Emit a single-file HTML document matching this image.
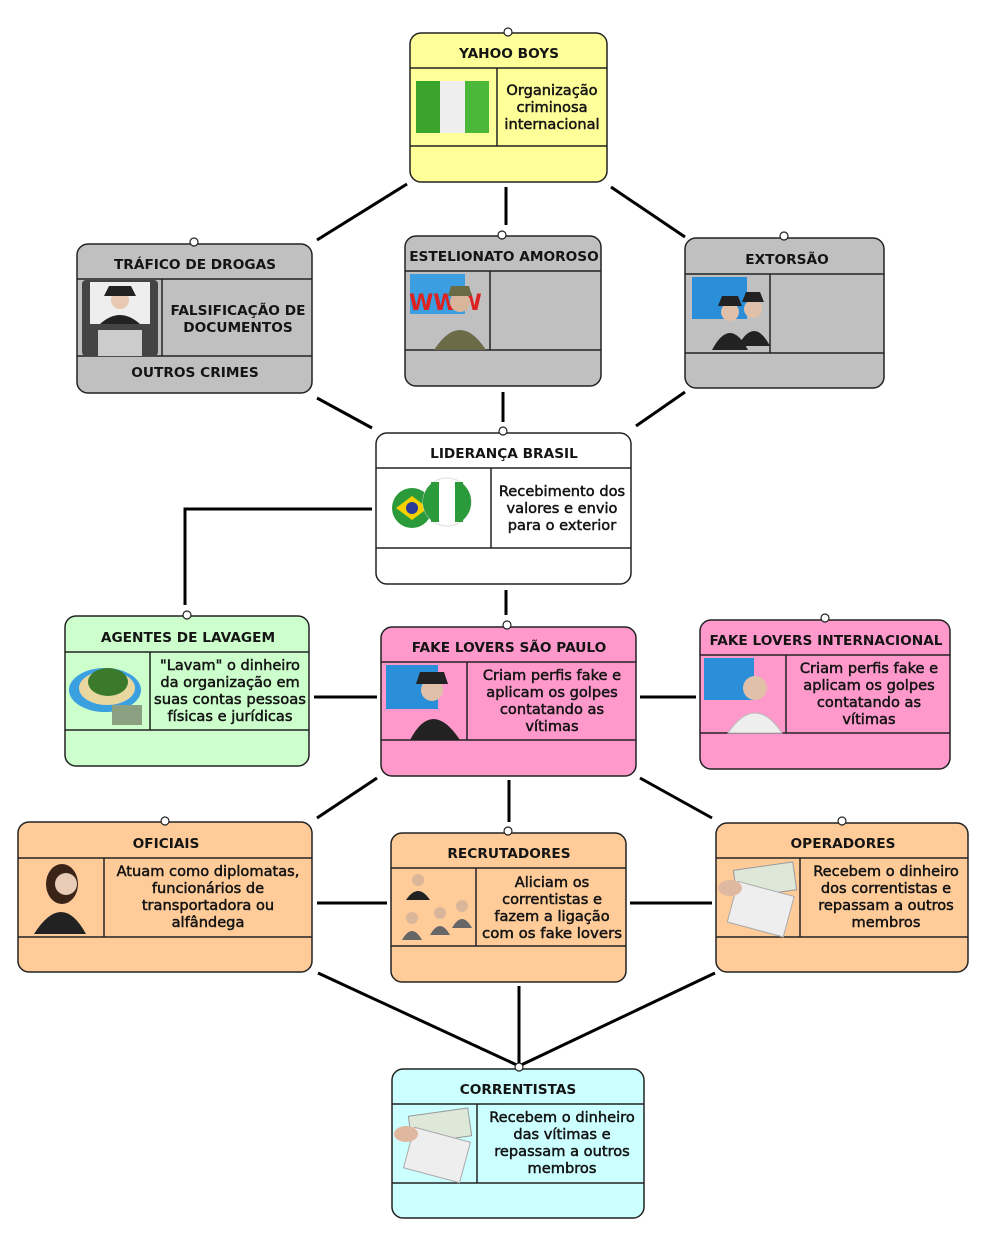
<!DOCTYPE html>
<html><head><meta charset="utf-8"><style>
body{margin:0;background:#fff}
svg{display:block}
.t{font-family:"DejaVu Sans","Liberation Sans",sans-serif;font-weight:bold;font-size:13.7px;fill:#141414;text-anchor:middle}
.b{font-family:"DejaVu Sans","Liberation Sans",sans-serif;font-size:14.6px;fill:#141414;text-anchor:middle;stroke:#141414;stroke-width:.5}
.n{stroke:#222;stroke-width:1.5}
.l{stroke:#000;stroke-width:3;fill:none}
.c{fill:#fff;stroke:#222;stroke-width:1.2}
</style></head><body>
<svg width="1000" height="1236" viewBox="0 0 1000 1236">
<g class="l">
<line x1="407" y1="184" x2="317" y2="240"/>
<line x1="506" y1="187" x2="506" y2="225"/>
<line x1="611" y1="187" x2="685" y2="237"/>
<line x1="317" y1="398" x2="372" y2="428"/>
<line x1="503" y1="392" x2="503" y2="422"/>
<line x1="685" y1="392" x2="636" y2="426"/>
<polyline points="372,509 185,509 185,605"/>
<line x1="506" y1="590" x2="506" y2="615"/>
<line x1="314" y1="697" x2="377" y2="697"/>
<line x1="640" y1="697" x2="696" y2="697"/>
<line x1="377" y1="778" x2="317" y2="818"/>
<line x1="509" y1="780" x2="509" y2="822"/>
<line x1="640" y1="778" x2="712" y2="818"/>
<line x1="317" y1="903" x2="387" y2="903"/>
<line x1="630" y1="903" x2="712" y2="903"/>
<line x1="318" y1="973" x2="519" y2="1066"/>
<line x1="519" y1="986" x2="519" y2="1066"/>
<line x1="715" y1="973" x2="519" y2="1066"/>
</g>

<rect class="n" x="410" y="33" width="197" height="149" rx="11" fill="#ffff99"/>
<line class="n" x1="410" y1="68" x2="607" y2="68"/><line class="n" x1="410" y1="146" x2="607" y2="146"/><line class="n" x1="497" y1="68" x2="497" y2="146"/>
<rect x="416" y="81" width="24" height="52" fill="#3aa52a"/><rect x="440" y="81" width="25" height="52" fill="#eee"/><rect x="465" y="81" width="24" height="52" fill="#4cb83a"/>
<text class="t" x="509" y="58">YAHOO BOYS</text>
<text class="b" x="552" y="95">Organização</text><text class="b" x="552" y="112">criminosa</text><text class="b" x="552" y="129">internacional</text>
<circle class="c" cx="508" cy="32" r="4"/>

<rect class="n" x="77" y="244" width="235" height="149" rx="11" fill="#c0c0c0"/>
<line class="n" x1="77" y1="279" x2="312" y2="279"/><line class="n" x1="77" y1="356" x2="312" y2="356"/><line class="n" x1="162" y1="279" x2="162" y2="356"/>
<rect x="82" y="280" width="76" height="76" rx="4" fill="#444"/><rect x="90" y="282" width="60" height="42" fill="#eee"/><rect x="98" y="330" width="44" height="26" fill="#ccc"/>
<circle cx="120" cy="300" r="9" fill="#e8c8b0"/><path d="M104 296h32l-5-10h-22z" fill="#222"/><path d="M100 324q20-18 40 0z" fill="#222"/>
<text class="t" x="195" y="269">TRÁFICO DE DROGAS</text>
<text class="t" x="238" y="315">FALSIFICAÇÃO DE</text><text class="t" x="238" y="332">DOCUMENTOS</text>
<text class="t" x="195" y="377">OUTROS CRIMES</text>
<circle class="c" cx="194" cy="242" r="4"/>

<rect class="n" x="405" y="236" width="196" height="150" rx="11" fill="#c0c0c0"/>
<line class="n" x1="405" y1="271" x2="601" y2="271"/><line class="n" x1="405" y1="350" x2="601" y2="350"/><line class="n" x1="490" y1="271" x2="490" y2="350"/>
<rect x="410" y="274" width="55" height="40" fill="#3a9ee0"/><text x="409" y="310" font-family="DejaVu Sans" font-weight="bold" font-size="22" fill="#d22">WWW</text>
<circle cx="460" cy="302" r="10" fill="#d9b59a"/><path d="M448 296h24l-3-10h-18z" fill="#6a6a45"/><path d="M434 350q26-40 52 0z" fill="#6b6b48"/>
<text class="t" x="504" y="261">ESTELIONATO AMOROSO</text>
<circle class="c" cx="502" cy="235" r="4"/>

<rect class="n" x="685" y="238" width="199" height="150" rx="11" fill="#c0c0c0"/>
<line class="n" x1="685" y1="274" x2="884" y2="274"/><line class="n" x1="685" y1="353" x2="884" y2="353"/><line class="n" x1="770" y1="274" x2="770" y2="353"/>
<rect x="692" y="277" width="55" height="42" fill="#2a8fd8"/>
<circle cx="730" cy="312" r="9" fill="#e0c0a8"/><circle cx="753" cy="309" r="9" fill="#e0c0a8"/>
<path d="M712 350q18-34 36 0z" fill="#222"/><path d="M738 346q16-30 32 0z" fill="#222"/>
<path d="M718 306h24l-4-10h-16zM742 302h22l-4-10h-14z" fill="#222"/>
<text class="t" x="787" y="264">EXTORSÃO</text>
<circle class="c" cx="784" cy="236" r="4"/>

<rect class="n" x="376" y="433" width="255" height="151" rx="11" fill="#fff"/>
<line class="n" x1="376" y1="468" x2="631" y2="468"/><line class="n" x1="376" y1="548" x2="631" y2="548"/><line class="n" x1="491" y1="468" x2="491" y2="548"/>
<circle cx="412" cy="508" r="20" fill="#2a9a3a"/><path d="M396 508l16-12 16 12-16 12z" fill="#f5d000"/><circle cx="412" cy="508" r="6" fill="#2a3a9a"/>
<circle cx="447" cy="502" r="24" fill="#fff" stroke="#ddd"/><path d="M431 484a24 24 0 0 0 0 36z" fill="#2a9a3a"/><path d="M463 484a24 24 0 0 1 0 36z" fill="#2a9a3a"/><rect x="431" y="482" width="8" height="40" fill="#2a9a3a"/><rect x="455" y="482" width="8" height="40" fill="#2a9a3a"/>
<text class="t" x="504" y="458">LIDERANÇA BRASIL</text>
<text class="b" x="562" y="496">Recebimento dos</text><text class="b" x="562" y="513">valores e envio</text><text class="b" x="562" y="530">para o exterior</text>
<circle class="c" cx="503" cy="431" r="4"/>

<rect class="n" x="65" y="616" width="244" height="150" rx="11" fill="#ccffcc"/>
<line class="n" x1="65" y1="652" x2="309" y2="652"/><line class="n" x1="65" y1="730" x2="309" y2="730"/><line class="n" x1="150" y1="652" x2="150" y2="730"/>
<ellipse cx="105" cy="690" rx="36" ry="22" fill="#3aa0e0"/><ellipse cx="107" cy="688" rx="28" ry="17" fill="#e8d8a0"/><ellipse cx="108" cy="682" rx="20" ry="14" fill="#3a7a2a"/><rect x="112" y="705" width="30" height="20" fill="#8aa080"/>
<text class="t" x="188" y="642">AGENTES DE LAVAGEM</text>
<text class="b" x="230" y="670">"Lavam" o dinheiro</text><text class="b" x="230" y="687">da organização em</text><text class="b" x="230" y="704" textLength="152" lengthAdjust="spacingAndGlyphs">suas contas pessoas</text><text class="b" x="230" y="721">físicas e jurídicas</text>
<circle class="c" cx="187" cy="615" r="4"/>

<rect class="n" x="381" y="627" width="255" height="149" rx="11" fill="#ff99cc"/>
<line class="n" x1="381" y1="662" x2="636" y2="662"/><line class="n" x1="381" y1="740" x2="636" y2="740"/><line class="n" x1="467" y1="662" x2="467" y2="740"/>
<rect x="386" y="665" width="52" height="44" fill="#2a8fd8"/><circle cx="432" cy="690" r="11" fill="#e0c0a8"/><path d="M416 684h32l-4-12h-24z" fill="#222"/><path d="M410 740q22-42 50 0z" fill="#222"/>
<text class="t" x="509" y="652">FAKE LOVERS SÃO PAULO</text>
<text class="b" x="552" y="680">Criam perfis fake e</text><text class="b" x="552" y="697">aplicam os golpes</text><text class="b" x="552" y="714">contatando as</text><text class="b" x="552" y="731">vítimas</text>
<circle class="c" cx="507" cy="625" r="4"/>

<rect class="n" x="700" y="620" width="250" height="149" rx="11" fill="#ff99cc"/>
<line class="n" x1="700" y1="655" x2="950" y2="655"/><line class="n" x1="700" y1="733" x2="950" y2="733"/><line class="n" x1="786" y1="655" x2="786" y2="733"/>
<rect x="704" y="658" width="50" height="42" fill="#2a8fd8"/><circle cx="755" cy="688" r="12" fill="#e0c0a8"/><path d="M728 733q27-40 54 0z" fill="#eee" stroke="#bbb"/>
<text class="t" x="826" y="645">FAKE LOVERS INTERNACIONAL</text>
<text class="b" x="869" y="673">Criam perfis fake e</text><text class="b" x="869" y="690">aplicam os golpes</text><text class="b" x="869" y="707">contatando as</text><text class="b" x="869" y="724">vítimas</text>
<circle class="c" cx="825" cy="618" r="4"/>

<rect class="n" x="18" y="822" width="294" height="150" rx="11" fill="#ffcc99"/>
<line class="n" x1="18" y1="858" x2="312" y2="858"/><line class="n" x1="18" y1="937" x2="312" y2="937"/><line class="n" x1="104" y1="858" x2="104" y2="937"/>
<ellipse cx="62" cy="884" rx="16" ry="20" fill="#3a2418"/><circle cx="66" cy="884" r="11" fill="#e8ccb8"/><path d="M34 934q28-44 52 0z" fill="#222"/>
<text class="t" x="166" y="848">OFICIAIS</text>
<text class="b" x="208" y="876">Atuam como diplomatas,</text><text class="b" x="208" y="893">funcionários de</text><text class="b" x="208" y="910">transportadora ou</text><text class="b" x="208" y="927">alfândega</text>
<circle class="c" cx="165" cy="821" r="4"/>

<rect class="n" x="391" y="833" width="235" height="149" rx="11" fill="#ffcc99"/>
<line class="n" x1="391" y1="868" x2="626" y2="868"/><line class="n" x1="391" y1="946" x2="626" y2="946"/><line class="n" x1="476" y1="868" x2="476" y2="946"/>
<circle cx="418" cy="880" r="6" fill="#d9b59a"/><path d="M406 900q12-18 24 0z" fill="#222"/>
<circle cx="412" cy="918" r="6" fill="#d9b59a"/><path d="M402 940q10-18 20 0z" fill="#666"/>
<circle cx="440" cy="913" r="6" fill="#d9b59a"/><path d="M430 935q10-18 20 0z" fill="#666"/>
<circle cx="462" cy="906" r="6" fill="#d9b59a"/><path d="M452 928q10-18 20 0z" fill="#666"/>
<text class="t" x="509" y="858">RECRUTADORES</text>
<text class="b" x="552" y="887">Aliciam os</text><text class="b" x="552" y="904">correntistas e</text><text class="b" x="552" y="921">fazem a ligação</text><text class="b" x="552" y="938" textLength="140" lengthAdjust="spacingAndGlyphs">com os fake lovers</text>
<circle class="c" cx="508" cy="831" r="4"/>

<rect class="n" x="716" y="823" width="252" height="149" rx="11" fill="#ffcc99"/>
<line class="n" x1="716" y1="858" x2="968" y2="858"/><line class="n" x1="716" y1="937" x2="968" y2="937"/><line class="n" x1="800" y1="858" x2="800" y2="937"/>
<rect x="735" y="866" width="60" height="28" fill="#dde8d8" stroke="#999" transform="rotate(-8 765 880)"/><rect x="732" y="888" width="58" height="42" fill="#eee" stroke="#aaa" transform="rotate(15 760 908)"/><ellipse cx="730" cy="888" rx="12" ry="8" fill="#e0b8a0"/>
<text class="t" x="843" y="848">OPERADORES</text>
<text class="b" x="886" y="876">Recebem o dinheiro</text><text class="b" x="886" y="893">dos correntistas e</text><text class="b" x="886" y="910">repassam a outros</text><text class="b" x="886" y="927">membros</text>
<circle class="c" cx="842" cy="821" r="4"/>

<rect class="n" x="392" y="1069" width="252" height="149" rx="11" fill="#ccffff"/>
<line class="n" x1="392" y1="1104" x2="644" y2="1104"/><line class="n" x1="392" y1="1183" x2="644" y2="1183"/><line class="n" x1="477" y1="1104" x2="477" y2="1183"/>
<rect x="410" y="1112" width="60" height="28" fill="#dde8d8" stroke="#999" transform="rotate(-8 440 1126)"/><rect x="408" y="1134" width="58" height="42" fill="#eee" stroke="#aaa" transform="rotate(15 437 1155)"/><ellipse cx="406" cy="1134" rx="12" ry="8" fill="#e0b8a0"/>
<text class="t" x="518" y="1094">CORRENTISTAS</text>
<text class="b" x="562" y="1122">Recebem o dinheiro</text><text class="b" x="562" y="1139">das vítimas e</text><text class="b" x="562" y="1156">repassam a outros</text><text class="b" x="562" y="1173">membros</text>
<circle class="c" cx="519" cy="1067" r="4"/>
</svg>
</body></html>
